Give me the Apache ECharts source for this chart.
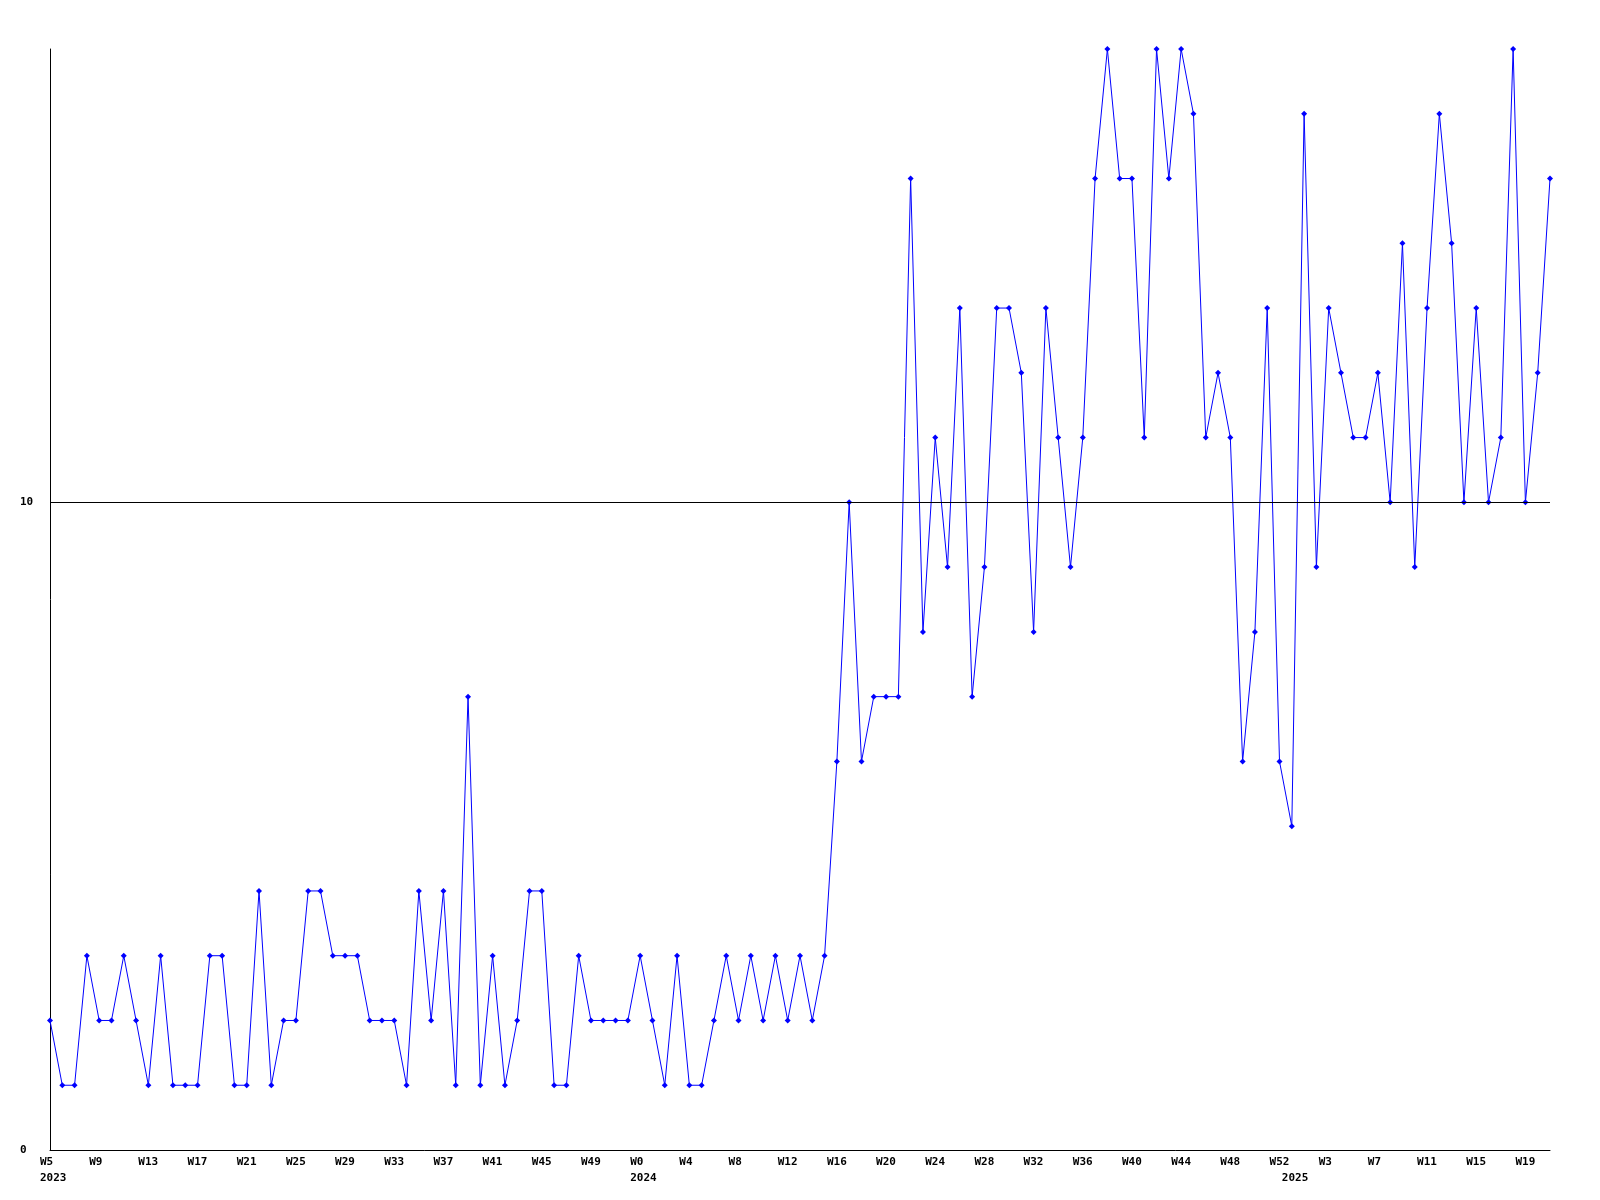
<!DOCTYPE html>
<html>
<head>
<meta charset="utf-8">
<script src="https://cdn.jsdelivr.net/npm/echarts@6/dist/echarts.min.js"></script>
<style>
html,body{margin:0;padding:0;background:#fff;}
#chart{width:1600px;height:1200px;}
</style>
</head>
<body>
<div id="chart"></div>
<script>
// Week ranges per year (week numbers as shown on the axis)
const years = [2023, 2024, 2025];
const weekFrom = [5, 0, 0];
const weekTo = [52, 52, 21];

// Weekly values
const values2023 = [2,1,1,3,2,2,3,2,1,3,1,1,1,3,3,1,1,4,1,2,2,4,4,3,3,3,2,2,2,1,4,2,4,1,7,1,3,1,2,4,4,1,1,3,2,2,2,2];
const values2024 = [3,2,1,3,1,1,2,3,2,3,2,3,2,3,2,3,6,10,6,7,7,7,15,8,11,9,13,7,9,13,13,12,8,13,11,9,11,15,17,15,15,11,17,15,17,16,11,12,11,6,8,13,6];
const values2025 = [5,16,9,13,12,11,11,12,10,14,9,13,16,14,10,13,10,11,17,10,12,15];

// Y axis tick labels shown
const yTickLabels = [0, 10];
const labelEvery = 4;

const categories = [];
const yearStart = {};
years.forEach((y, i) => {
  for (let w = weekFrom[i]; w <= weekTo[i]; w++) {
    if (w === weekFrom[i]) yearStart[categories.length] = y;
    categories.push({ year: y, week: w });
  }
});
const values = values2023.concat(values2024, values2025);

const chart = echarts.init(document.getElementById('chart'));
chart.setOption({
  backgroundColor: '#ffffff',
  animation: false,
  grid: { left: 50, right: 50, top: 49, bottom: 50, containLabel: false },
  xAxis: {
    type: 'category',
    boundaryGap: false,
    data: categories.map((c, i) => i),
    axisLine: { lineStyle: { color: '#000', width: 1 } },
    axisTick: { show: false },
    splitLine: { show: false },
    axisLabel: {
      interval: 0,
      margin: 4,
      align: 'left',
      verticalAlign: 'top',
      padding: [0, 0, 0, -10],
      fontFamily: 'DejaVu Sans Mono',
      fontWeight: 'bold',
      fontSize: 11,
      lineHeight: 16,
      color: '#000',
      formatter: function (v) {
        const i = Number(v);
        const c = categories[i];
        const wk = (i % labelEvery === 0) ? ('W' + c.week) : '';
        const yr = (yearStart[i] !== undefined) ? String(yearStart[i]) : '';
        if (!wk && !yr) return '';
        return wk + (yr ? '\n' + yr : '');
      }
    }
  },
  yAxis: {
    type: 'value',
    min: 0,
    max: 17,
    interval: 10,
    axisLine: { show: true, lineStyle: { color: '#000', width: 1 } },
    axisTick: { show: false },
    splitLine: { show: false },
    axisLabel: {
      margin: 30,
      align: 'left',
      fontFamily: 'DejaVu Sans Mono',
      fontWeight: 'bold',
      fontSize: 11,
      color: '#000',
      formatter: function (v) { return yTickLabels.indexOf(v) >= 0 ? String(v) : ''; }
    }
  },
  series: [{
    type: 'line',
    data: values,
    symbol: 'diamond',
    symbolSize: 6,
    showAllSymbol: true,
    lineStyle: { color: '#0000ff', width: 1 },
    itemStyle: { color: '#0000ff' },
    markLine: {
      silent: true,
      symbol: ['none', 'none'],
      label: { show: false },
      lineStyle: { color: '#000', width: 1, type: 'solid' },
      data: [{ yAxis: yTickLabels[1] }]
    }
  }]
});
</script>
</body>
</html>
